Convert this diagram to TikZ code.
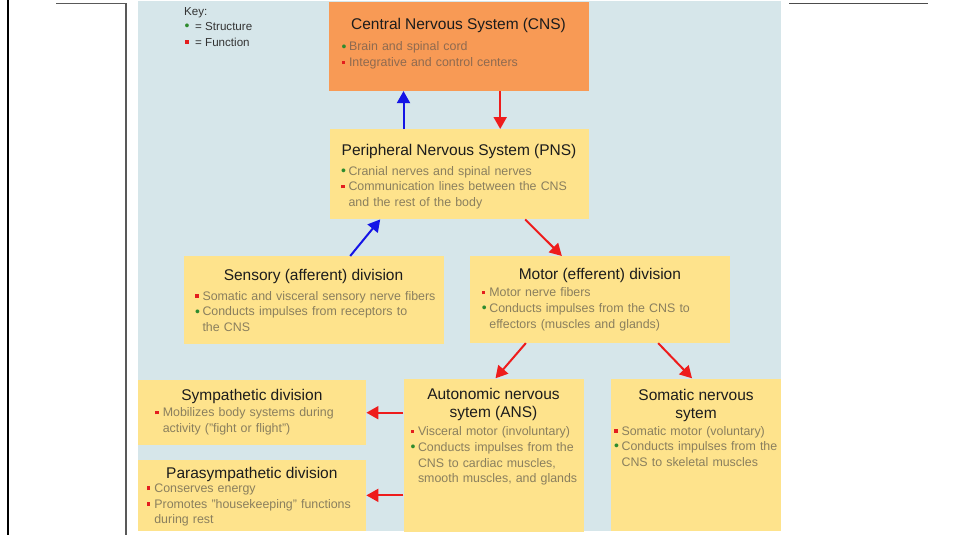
\documentclass[tikz,border=0pt]{standalone}
\usepackage{fontspec}
\setmainfont{Liberation Sans}
\usetikzlibrary{arrows.meta,positioning}
\definecolor{bgblue}{HTML}{D6E6EA}
\definecolor{cnsorange}{HTML}{F89A55}
\definecolor{boxyellow}{HTML}{FEE38C}
\definecolor{afferentblue}{HTML}{1414E6}
\definecolor{efferentred}{HTML}{EE1C1C}
\definecolor{dotgreen}{HTML}{2E8B2E}
\definecolor{sqred}{HTML}{E31E1E}
\definecolor{titletxt}{HTML}{1C1C1C}
\definecolor{bodytxt}{HTML}{8A7F5E}
\definecolor{cnstxt}{HTML}{8E6A50}
\definecolor{keytxt}{HTML}{333333}
\newcommand{\gdot}{\textcolor{dotgreen}{\raisebox{-0.2pt}{\fontsize{14}{14}\selectfont •}}}
\newcommand{\rsq}{\textcolor{sqred}{\rule[2.4pt]{3.6pt}{3.6pt}}}
\newcommand{\ttl}[2][3pt]{{\centering\fontsize{15.5}{18.5}\selectfont\color{titletxt}#2\par}\vspace{#1}}
\newcommand{\gitem}[1]{\par\noindent\makebox[7.5pt][l]{\gdot}\mbox{#1}}
\newcommand{\ritem}[1]{\par\noindent\makebox[7.5pt][l]{\rsq}\mbox{#1}}
\newcommand{\nline}[1]{\par\noindent\hspace*{7.5pt}\mbox{#1}}

\begin{document}
\begin{tikzpicture}[x=1pt, y=-1pt,
  panel/.style={rectangle, fill=boxyellow, anchor=north west, inner sep=0pt, draw=none},
  txt/.style={anchor=north, text width=#1, align=left, inner sep=0pt,
              text=bodytxt, font=\fontsize{12.4}{15.7}\selectfont},
  affarr/.style={-{Triangle[length=12pt,width=13pt]}, line width=2pt, afferentblue},
  effarr/.style={-{Triangle[length=12pt,width=13pt]}, line width=2pt, efferentred}
]
  \useasboundingbox (0,0) rectangle (960,535);

  %% Frame and background
  \draw[line width=2.5pt, black] (8,0) -- (8,535);
  \draw[line width=1.5pt, gray!70!black] (56,3.3) -- (126,3.3) -- (126,535);
  \draw[line width=1.5pt, gray!60!black] (789,3.3) -- (928,3.3);
  \fill[bgblue] (137.5,1.5) rectangle (780.5,531);

  %% Key
  \node[anchor=north west, inner sep=0pt, align=left, text=keytxt,
        font=\fontsize{11.6}{15.3}\selectfont] (key) at (184,7.3)
    {Key:\\\makebox[11pt][l]{\hspace{0.5pt}\gdot}= Structure\\\makebox[11pt][l]{\hspace{1pt}\rsq}= Function};

  %% Boxes
  \node[panel, fill=cnsorange, minimum width=260pt, minimum height=89pt] (cns) at (328.3,1.7) {};
  \node[panel, minimum width=259pt, minimum height=90pt] (pns) at (329.3,129) {};
  \node[panel, minimum width=260pt, minimum height=87.3pt] (sens) at (183.3,256) {};
  \node[panel, minimum width=259.3pt, minimum height=86.7pt] (mot) at (470,256) {};
  \node[panel, minimum width=228.7pt, minimum height=65pt] (symp) at (137.3,380) {};
  \node[panel, minimum width=228.7pt, minimum height=71.7pt] (para) at (137.3,459.3) {};
  \node[panel, minimum width=180pt, minimum height=153.4pt] (ans) at (403.3,378.3) {};
  \node[panel, minimum width=170.3pt, minimum height=152.7pt] (som) at (610.7,378.3) {};

  %% Texts
  \node[txt=234pt, text=cnstxt, below=16.3pt of cns.north] (cnsT)
    {\ttl[5.7pt]{Central Nervous System (CNS)}\gitem{Brain and spinal cord}\ritem{Integrative and control centers}};
  \node[txt=236pt, below=15.4pt of pns.north] (pnsT)
    {\ttl[3.6pt]{Peripheral Nervous System (PNS)}\gitem{Cranial nerves and spinal nerves}\ritem{Communication lines between the CNS}\nline{and the rest of the body}};
  \node[txt=237pt, below=13.4pt of sens.north] (sensT)
    {\ttl[3.6pt]{Sensory (afferent) division}\ritem{Somatic and visceral sensory nerve fibers}\gitem{Conducts impulses from receptors to}\nline{the CNS}};
  \node[txt=236pt, below=12pt of mot.north] (motT)
    {\ttl[1.7pt]{Motor (efferent) division}\ritem{Motor nerve fibers}\gitem{Conducts impulses from the CNS to}\nline{effectors (muscles and glands)}};
  \node[txt=193pt, below=8.7pt of symp.north] (sympT)
    {\ttl[1pt]{Sympathetic division}\ritem{Mobilizes body systems during}\nline{activity ("fight or flight")}};
  \node[txt=210pt, below=7.7pt of para.north] (paraT)
    {\ttl[-1.7pt]{Parasympathetic division}\ritem{Conserves energy}\ritem{Promotes "housekeeping" functions}\nline{during rest}};
  \node[txt=166pt, below=9.7pt of ans.north] (ansT)
    {\ttl[2pt]{Autonomic nervous\\sytem (ANS)}\ritem{Visceral motor (involuntary)}\gitem{Conducts impulses from the}\nline{CNS to cardiac muscles,}\nline{smooth muscles, and glands}};
  \node[txt=164pt, below=10.4pt of som.north] (somT)
    {\ttl[0.7pt]{Somatic nervous\\sytem}\ritem{Somatic motor (voluntary)}\gitem{Conducts impulses from the}\nline{CNS to skeletal muscles}};

  %% Arrows
  \draw[affarr] ([xshift=-55.5pt]pns.north) -- ([xshift=-55pt]cns.south);
  \draw[effarr] ([xshift=41.7pt]cns.south) -- ([xshift=41.2pt]pns.north);
  \draw[affarr] ([xshift=36.7pt]sens.north) -- ([xshift=-78.8pt]pns.south);
  \draw[effarr] ([xshift=66.2pt]pns.south) -- ([xshift=-38pt]mot.north);
  \draw[effarr] ([xshift=-74pt]mot.south) -- ([xshift=2pt]ans.north);
  \draw[effarr] ([xshift=58.3pt]mot.south) -- ([xshift=-4pt]som.north);
  \draw[effarr] (ans.west |- symp.east) -- (symp.east);
  \draw[effarr] (ans.west |- para.east) -- (para.east);
\end{tikzpicture}
\end{document}
